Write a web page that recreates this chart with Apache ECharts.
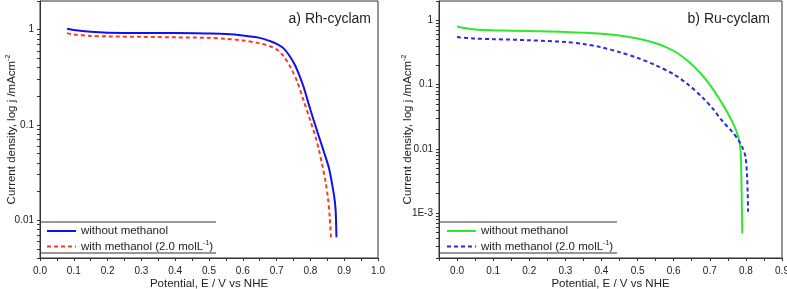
<!DOCTYPE html>
<html>
<head>
<meta charset="utf-8">
<script src="https://cdn.jsdelivr.net/npm/echarts@6/dist/echarts.min.js"></script>
<style>
  html, body { margin: 0; padding: 0; background: #fff; }
  #chart { width: 787px; height: 289px; }
</style>
</head>
<body>
<div id="chart"></div>
<script>
// a) Rh-cyclam
var rhWithoutX = [0.08, 0.10, 0.15, 0.20, 0.30, 0.40, 0.50, 0.55, 0.60, 0.65, 0.68, 0.70, 0.72, 0.74, 0.755, 0.769, 0.78, 0.80, 0.82, 0.84, 0.855, 0.867, 0.872, 0.875, 0.877];
var rhWithoutY = [1.02, 0.99, 0.95, 0.93, 0.92, 0.92, 0.91, 0.90, 0.87, 0.82, 0.76, 0.71, 0.64, 0.52, 0.42, 0.32, 0.25, 0.144, 0.086, 0.052, 0.035, 0.021, 0.016, 0.012, 0.0066];
var rhWithX = [0.08, 0.10, 0.15, 0.20, 0.30, 0.40, 0.50, 0.55, 0.60, 0.65, 0.68, 0.70, 0.72, 0.74, 0.76, 0.78, 0.80, 0.815, 0.825, 0.835, 0.845, 0.852, 0.857, 0.861];
var rhWithY = [0.92, 0.89, 0.86, 0.85, 0.84, 0.83, 0.82, 0.80, 0.77, 0.72, 0.67, 0.62, 0.53, 0.41, 0.29, 0.18, 0.11, 0.075, 0.055, 0.038, 0.025, 0.017, 0.011, 0.0062];

// b) Ru-cyclam
var ruWithoutX = [0.00, 0.02, 0.05, 0.10, 0.20, 0.30, 0.40, 0.45, 0.50, 0.55, 0.58, 0.61, 0.64, 0.67, 0.70, 0.72, 0.74, 0.76, 0.775, 0.783, 0.786, 0.787, 0.788, 0.789, 0.79];
var ruWithoutY = [0.80, 0.76, 0.72, 0.70, 0.68, 0.66, 0.62, 0.58, 0.52, 0.44, 0.38, 0.31, 0.23, 0.16, 0.10, 0.068, 0.045, 0.028, 0.018, 0.012, 0.008, 0.005, 0.0025, 0.0012, 0.00048];
var ruWithX = [0.00, 0.05, 0.10, 0.20, 0.30, 0.35, 0.40, 0.45, 0.50, 0.55, 0.60, 0.64, 0.68, 0.71, 0.735, 0.76, 0.78, 0.792, 0.799, 0.803, 0.805, 0.806];
var ruWithY = [0.55, 0.52, 0.51, 0.49, 0.46, 0.43, 0.38, 0.32, 0.26, 0.20, 0.145, 0.10, 0.063, 0.041, 0.027, 0.019, 0.0135, 0.010, 0.0075, 0.004, 0.002, 0.00105];

var legendNames = ['without methanol', 'with methanol (2.0 molL-1)'];
var rhXTicks = [0, 0.1, 0.2, 0.3, 0.4, 0.5, 0.6, 0.7, 0.8, 0.9, 1.0];
var ruXTicks = [0, 0.1, 0.2, 0.3, 0.4, 0.5, 0.6, 0.7, 0.8, 0.9];
var rhYTicks = [0.01, 0.1, 1];
var ruYTicks = [0.001, 0.01, 0.1, 1];
var yTickText = {'0.001': '1E-3', '0.01': '0.01', '0.1': '0.1', '1': '1'};

var FONT = '"Liberation Sans", Arial, sans-serif';
var TXT = '#222';
var AX = '#333';

function zip(xs, ys) {
    return xs.map(function (x, i) { return [x, ys[i]]; });
}

// minor ticks: half steps on x, 2..9 in each decade on log y
function halfSteps(ticks) {
    var out = [];
    for (var i = 0; i < ticks.length; i++) {
        out.push(+(ticks[i] - 0.05).toFixed(2));
        out.push(+(ticks[i] + 0.05).toFixed(2));
    }
    return out;
}
function logMinor(decades) {
    var out = [];
    var all = [decades[0] / 10].concat(decades);
    for (var i = 0; i < all.length; i++) {
        for (var k = 2; k <= 9; k++) out.push(+(all[i] * k).toPrecision(3));
    }
    return out;
}

function xAxisOf(grid, min, max, ticks) {
    var all = ticks.concat(halfSteps(ticks)).filter(function (v) { return v >= min && v <= max; });
    return {
        gridIndex: grid, type: 'value', min: min, max: max,
        name: 'Potential, E / V vs NHE', nameLocation: 'middle', nameGap: 20,
        nameMoveOverlap: false,
        nameTextStyle: {fontFamily: FONT, fontSize: 11.5, color: TXT},
        axisLine: {onZero: false, lineStyle: {color: AX, width: 1}},
        axisTick: {customValues: all, length: 3, lineStyle: {color: AX}},
        axisLabel: {customValues: ticks, margin: 8, fontFamily: FONT, fontSize: 10, color: TXT,
            formatter: function (v) { return v.toFixed(1); }},
        splitLine: {show: false}
    };
}
function yAxisOf(grid, min, max, ticks, nameGap) {
    var all = ticks.concat(logMinor(ticks)).filter(function (v) { return v >= min && v <= max; });
    return {
        gridIndex: grid, type: 'log', logBase: 10, min: min, max: max,
        name: '{t|Current density, log j /mAcm}{s|-2}', nameLocation: 'middle', nameGap: nameGap,
        nameMoveOverlap: false,
        nameTextStyle: {fontFamily: FONT, color: TXT,
            rich: {t: {fontFamily: FONT, fontSize: 11.5, color: TXT},
                   s: {fontFamily: FONT, fontSize: 7, color: TXT, verticalAlign: 'top', padding: [0, 0, 6, 0]}}},
        axisLine: {onZero: false, lineStyle: {color: AX, width: 1}},
        axisTick: {customValues: all, length: 3, lineStyle: {color: AX}},
        axisLabel: {customValues: ticks, margin: 6, fontFamily: FONT, fontSize: 10, color: TXT,
            formatter: function (v) { return yTickText[String(+v.toPrecision(3))] || ''; }},
        splitLine: {show: false}
    };
}

function lineSeries(name, idx, data, color, dashed) {
    return {
        name: name, type: 'line', xAxisIndex: idx, yAxisIndex: idx,
        data: data, symbol: 'none', smooth: 0.3,
        lineStyle: {color: color, width: 2, type: dashed ? [4, 3] : 'solid'},
        itemStyle: {color: color},
        z: dashed ? 3 : 2
    };
}

function legendText(name) {
    var t = name.split('|')[1];
    if (t === legendNames[1]) return '{t|with methanol (2.0 molL}{s|-1}{t|)}';
    return '{t|' + t + '}';
}
var legendRich = {
    t: {fontFamily: FONT, fontSize: 11.5, color: TXT},
    s: {fontFamily: FONT, fontSize: 7, color: TXT, verticalAlign: 'top', padding: [0, 0, 6, 0]}
};
function legendOf(prefix, left) {
    return {
        data: [prefix + '|' + legendNames[0], prefix + '|' + legendNames[1]],
        orient: 'vertical', left: left, top: 225, padding: 0,
        itemWidth: 29, itemHeight: 10, itemGap: 3,
        itemStyle: {opacity: 0},
        formatter: legendText, textStyle: {rich: legendRich}, selectedMode: false
    };
}

var chart = echarts.init(document.getElementById('chart'));
var option = {
    animation: false,
    backgroundColor: '#fff',
    title: [
        {text: 'a) Rh-cyclam', right: 411, top: 7,
            textStyle: {fontFamily: FONT, fontSize: 14, fontWeight: 'normal', color: TXT}},
        {text: 'b) Ru-cyclam', right: 12, top: 7,
            textStyle: {fontFamily: FONT, fontSize: 14, fontWeight: 'normal', color: TXT}}
    ],
    grid: [
        {left: 40, right: 409, top: 1, bottom: 31, outerBoundsMode: 'none',
            show: true, borderColor: AX, borderWidth: 1},
        {left: 439, right: 5, top: 1, bottom: 31, outerBoundsMode: 'none',
            show: true, borderColor: AX, borderWidth: 1}
    ],
    xAxis: [
        xAxisOf(0, 0, 1, rhXTicks),
        xAxisOf(1, -0.05, 0.9, ruXTicks)
    ],
    yAxis: [
        yAxisOf(0, 0.004, 2, rhYTicks, 22),
        yAxisOf(1, 0.0002, 2, ruYTicks, 25)
    ],
    legend: [
        legendOf('Rh', 46),
        legendOf('Ru', 446)
    ],
    graphic: [
        {type: 'line', shape: {x1: 40, y1: 222, x2: 216, y2: 222}, style: {stroke: AX, lineWidth: 1}},
        {type: 'line', shape: {x1: 40, y1: 253, x2: 216, y2: 253}, style: {stroke: AX, lineWidth: 1}},
        {type: 'line', shape: {x1: 439, y1: 222, x2: 617, y2: 222}, style: {stroke: AX, lineWidth: 1}},
        {type: 'line', shape: {x1: 439, y1: 253, x2: 617, y2: 253}, style: {stroke: AX, lineWidth: 1}}
    ],
    series: [
        lineSeries('Rh|' + legendNames[0], 0, zip(rhWithoutX, rhWithoutY), '#1010f0', false),
        lineSeries('Rh|' + legendNames[1], 0, zip(rhWithX, rhWithY), '#ff3a1a', true),
        lineSeries('Ru|' + legendNames[0], 1, zip(ruWithoutX, ruWithoutY), '#2ee82e', false),
        lineSeries('Ru|' + legendNames[1], 1, zip(ruWithX, ruWithY), '#2a2ae0', true)
    ]
};
chart.setOption(option);
window.addEventListener('resize', function () {
    chart.resize();
});
</script>
</body>
</html>
